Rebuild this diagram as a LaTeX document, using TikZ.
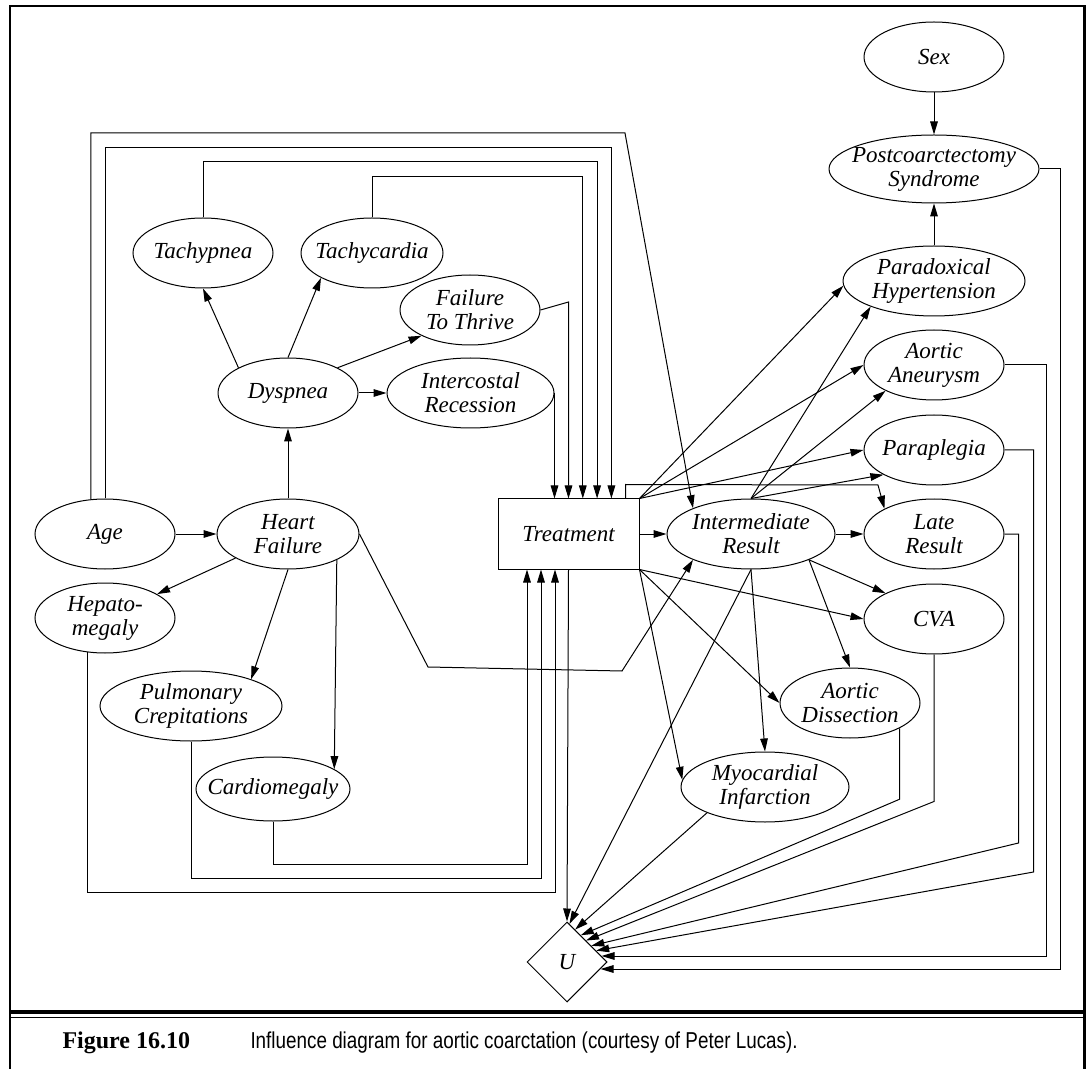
\documentclass[tikz,border=0pt]{standalone}
\usepackage{fontspec}
\setmainfont{Liberation Serif}
\newfontfamily\capfont[FakeStretch=0.82]{Liberation Sans}
\usetikzlibrary{shapes.geometric, arrows.meta, calc}

\tikzset{
  arr/.style={-{Triangle[length=6.5pt,width=3.8pt]}},
  lbl/.style={align=center, inner sep=0pt, font=\fontsize{11.5}{12}\selectfont\itshape},
  txt/.style={label={[lbl]center:#1}},
  chance/.style={draw, ellipse, inner sep=0pt, minimum width=70pt, minimum height=35pt},
  decision/.style={draw, rectangle, inner sep=0pt, minimum width=70.5pt, minimum height=35pt, font=\fontsize{11.5}{12}\selectfont\itshape},
  utility/.style={draw, diamond, inner sep=0pt, minimum width=40pt, minimum height=40pt, font=\fontsize{11.5}{12}\selectfont\itshape},
}

\begin{document}
\begin{tikzpicture}[x=0.5pt, y=-0.5pt, line width=0.5pt]
  \useasboundingbox (0,0) rectangle (1087,1069);
  % frame and caption
  \draw[line width=1.3pt] (10,1069) -- (10,6) -- (1084.5,6) -- (1084.5,1069);
  \draw[line width=1.6pt] (10,1012) -- (1084.5,1012);
  \draw[line width=0.8pt] (10,1017.5) -- (1084.5,1017.5);
  \node[anchor=base west, inner sep=0pt, font=\fontsize{12}{14}\selectfont\bfseries] (fig) at (62,1048) {Figure 16.10};
  \node[anchor=base west, inner sep=0pt, font=\capfont\fontsize{11.5}{13}\selectfont] (cap) at (250,1048) {Influence diagram for aortic coarctation (courtesy of Peter Lucas).};

  % left part
  \node[chance, txt=Tachypnea] (tachypnea) at (203,253) {};
  \node[chance, minimum width=71pt, txt=Tachycardia] (tachycardia) at (372,253) {};
  \node[chance, txt={Failure\\To Thrive}] (ftt) at (470,310) {};
  \node[chance, txt=Dyspnea] (dyspnea) at (288,393) {};
  \node[chance, minimum width=83.5pt, txt={Intercostal\\Recession}] (icr) at (470.5,393) {};
  \node[chance, txt=Age] (age) at (105,534) {};
  \node[chance, minimum width=71pt, txt={Heart\\Failure}] (hf) at (288,534) {};
  \node[chance, txt={Hepato-\\megaly}] (hepato) at (105,618) {};
  \node[chance, minimum width=91pt, txt={Pulmonary\\Crepitations}] (pulm) at (191,706) {};
  \node[chance, minimum width=77pt, minimum height=32pt, txt=Cardiomegaly] (cardio) at (273,789) {};

  % middle and right part
  \node[decision] (treat) at (568.5,534) {Treatment};
  \node[utility] (u) at (567,962) {U};
  \node[chance, minimum width=84pt, txt={Intermediate\\Result}] (ir) at (751,534) {};
  \node[chance, minimum width=84pt, txt={Myocardial\\Infarction}] (mi) at (765,787) {};
  \node[chance, txt={Aortic\\Dissection}] (ad) at (850,703) {};
  \node[chance, txt=Sex] (sex) at (934,57) {};
  \node[chance, minimum width=105pt, minimum height=34pt, txt={Postcoarctectomy\\Syndrome}] (ps) at (934,169) {};
  \node[chance, minimum width=91pt, txt={Paradoxical\\Hypertension}] (ph) at (934,281) {};
  \node[chance, txt={Aortic\\Aneurysm}] (aa) at (934,365) {};
  \node[chance, txt=Paraplegia] (para) at (934,450) {};
  \node[chance, txt={Late\\Result}] (late) at (934,534) {};
  \node[chance, txt=CVA] (cva) at (934,619) {};

  % symptoms
  \draw[arr] (age) -- (hf);
  \draw[arr] (hf.north) -- (dyspnea.south);
  \draw[arr] (hf) -- (hepato);
  \draw[arr] (hf.south) -- (pulm.24);
  \draw[arr] (hf.-28) -- (cardio.18);
  \draw[arr] (hf.east) -- (428,667) -- (622,671) -- (ir.-156);
  \draw[arr] (dyspnea.153) -- (tachypnea.south);
  \draw[arr] (dyspnea.north) -- (tachycardia.-154);
  \draw[arr] (dyspnea.27) -- (ftt.-152);
  \draw[arr] (dyspnea) -- (icr);

  % into treatment from above
  \draw[arr] (age.112) |- (625,133) -- (ir.156);
  \draw[arr] (age.north) -- ++(0,-351) -| ([xshift=21.45pt]treat.north);
  \draw[arr] (tachypnea.north) -- ++(0,-56) -| ([xshift=14.3pt]treat.north);
  \draw[arr] (tachycardia.north) -- ++(0,-41) -| ([xshift=7.15pt]treat.north);
  \draw[arr] (ftt.east) -- (568.5,302) -- (treat.north);
  \draw[arr] (icr.east) -- (icr.east |- treat.north);

  % into treatment from below
  \draw[arr] (cardio.south) -- ++(0,43) -| ([xshift=-20.75pt]treat.south);
  \draw[arr] (pulm.south) -- ++(0,137) -| ([xshift=-13.75pt]treat.south);
  \draw[arr] (hepato.-117) -- ++(0,240) -| ([xshift=-6.75pt]treat.south);

  % treatment
  \draw[arr] (treat.south) -- (u.north);
  \draw[arr] (treat) -- (ir);
  \draw[arr] ([xshift=-7pt]treat.north east) -- ++(0,-14) -- (878,485) -- (late.153);
  \draw[arr] (treat.north east) -- (ph.183);
  \draw[arr] (treat.north east) -- (aa.west);
  \draw[arr] (treat.north east) -- (para.west);
  \draw[arr] (treat.south east) -- (cva.west);
  \draw[arr] (treat.south east) -- (ad.west);
  \draw[arr] (treat.south east) -- (mi.175);

  % intermediate result
  \draw[arr] (ir) -- (late);
  \draw[arr] (ir.north) -- (ph.-158);
  \draw[arr] (ir.north) -- (aa.-152);
  \draw[arr] (ir.north) -- (para.-154);
  \draw[arr] (ir.-24) -- (cva.152);
  \draw[arr] (ir.-24) -- (ad.north);
  \draw[arr] (ir.south) -- (mi.north);
  \draw[arr] (ir.south) -- ($(u.north)!0.06!(u.east)$);

  % outcomes
  \draw[arr] (sex) -- (ps);
  \draw[arr] (ph) -- (ps);
  \draw[arr] (mi.-156) -- ($(u.north)!0.2!(u.east)$);
  \draw[arr] (ad.-27) -- ++(0,71) -- ($(u.north)!0.34!(u.east)$);
  \draw[arr] (cva.south) -- ++(0,147) -- ($(u.north)!0.47!(u.east)$);
  \draw[arr] (late.east) -- ++(14,0) -- ++(0,309) -- ($(u.north)!0.6!(u.east)$);
  \draw[arr] (para.east) -- ++(29,0) -- ++(0,422) -- ($(u.north)!0.72!(u.east)$);
  \draw[arr] (aa.east) -- ++(42,0) |- ([xshift=-3pt,yshift=3pt]u.east);
  \draw[arr] (ps.east) -- ++(21,0) |- ([xshift=-3.5pt,yshift=-3.5pt]u.east);
\end{tikzpicture}
\end{document}
